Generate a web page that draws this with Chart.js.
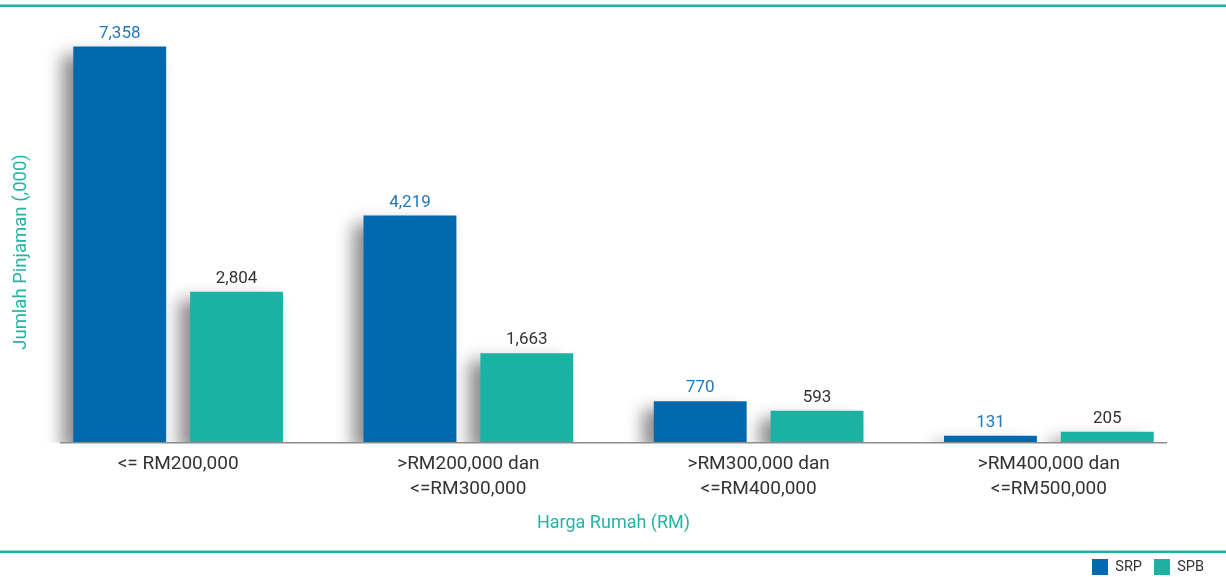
<!DOCTYPE html>
<html>
<head>
<meta charset="utf-8">
<script src="https://cdn.jsdelivr.net/npm/chart.js@4.4.0/dist/chart.umd.min.js"></script>
<style>
  html, body { margin: 0; padding: 0; background: #fff; overflow: hidden; }
  #wrap { position: absolute; left: 0; top: 0; width: 1226px; height: 585px; }
</style>
</head>
<body>
<div id="wrap"><canvas id="myChart" width="1226" height="585"></canvas></div>
<script>
const categories = ['<= RM200,000', ['>RM200,000 dan', '<=RM300,000'], ['>RM300,000 dan', '<=RM400,000'], ['>RM400,000 dan', '<=RM500,000']];
const srpValues = [7358, 4219, 770, 131];
const spbValues = [2804, 1663, 593, 205];
const seriesNames = ['SRP', 'SPB'];
const yTitle = 'Jumlah Pinjaman (,000)';
const xTitle = 'Harga Rumah (RM)';

const blue = '#0068ad';
const teal = '#1bb1a3';
const tealText = '#25b3a6';

// top/bottom rules, soft shadow behind bars, short baseline, value labels, y title
const decor = {
    id: 'decor',
    beforeDraw(chart) {
        const c = chart.ctx;
        c.save();
        c.fillStyle = '#8fd6cf';
        c.fillRect(0, 4, chart.width, 1);
        c.fillRect(0, 550, chart.width, 1);
        c.fillStyle = teal;
        c.fillRect(0, 5, chart.width, 2);
        c.fillRect(0, 551, chart.width, 2);
        // y axis title, centred a bit lower than the plot area
        c.translate(21, 252);
        c.rotate(-Math.PI / 2);
        c.font = '18.5px Roboto';
        c.fillStyle = tealText;
        c.textAlign = 'center';
        c.textBaseline = 'middle';
        c.fillText(yTitle, 0, 0);
        c.restore();
    },
    beforeDatasetsDraw(chart) {
        const c = chart.ctx;
        c.save();
        c.shadowColor = 'rgba(0,0,0,0.45)';
        c.shadowBlur = 16;
        c.shadowOffsetX = -11;
        c.shadowOffsetY = 8;
    },
    afterDatasetsDraw(chart) {
        const c = chart.ctx;
        c.restore();
        const y0 = chart.scales.y.getPixelForValue(0);
        c.save();
        c.strokeStyle = '#8c8c8c';
        c.lineWidth = 1.5;
        c.beginPath();
        c.moveTo(60, y0);
        c.lineTo(1167, y0);
        c.stroke();
        c.font = '17px Roboto';
        c.textAlign = 'center';
        c.textBaseline = 'alphabetic';
        chart.data.datasets.forEach((ds, i) => {
            const meta = chart.getDatasetMeta(i);
            c.fillStyle = i === 0 ? '#2278bd' : '#333333';
            meta.data.forEach((bar, j) => {
                c.fillText(ds.data[j].toLocaleString('en-US'), bar.x, bar.y - 9);
            });
        });
        c.restore();
    }
};

const ctx = document.getElementById('myChart').getContext('2d');
let myChart = new Chart(ctx, {
    type: 'bar',
    data: {
        labels: categories,
        datasets: [{
            label: seriesNames[0],
            data: srpValues,
            backgroundColor: blue,
            borderWidth: 0
        }, {
            label: seriesNames[1],
            data: spbValues,
            backgroundColor: teal,
            borderWidth: 0
        }]
    },
    options: {
        responsive: false,
        animation: false,
        barPercentage: 0.795,
        categoryPercentage: 0.805,
        layout: {
            padding: { top: 12, left: 33, right: 10, bottom: 0 }
        },
        scales: {
            x: {
                grid: { display: false, drawTicks: false },
                border: { display: false },
                ticks: {
                    padding: 9,
                    color: '#333333',
                    font: { family: 'Roboto', size: 19, lineHeight: 1.32 }
                },
                title: {
                    display: true,
                    text: xTitle,
                    color: tealText,
                    font: { family: 'Roboto', size: 18, lineHeight: 1.2 },
                    padding: { top: 1.3, bottom: 13.2 }
                }
            },
            y: {
                min: 0,
                max: 8000,
                grid: { display: false, drawTicks: false },
                border: { display: false },
                ticks: { display: false }
            },
            y2: {
                position: 'right',
                grid: { display: false, drawTicks: false },
                border: { display: false },
                ticks: { display: false },
                afterFit: function(scale) { scale.width = 22; }
            }
        },
        plugins: {
            legend: {
                position: 'bottom',
                align: 'end',
                labels: {
                    boxWidth: 16,
                    boxHeight: 16,
                    padding: 12,
                    color: '#333333',
                    font: { family: 'Roboto', size: 14.5 }
                }
            },
            tooltip: { enabled: false }
        }
    },
    plugins: [decor]
});
</script>
</body>
</html>
